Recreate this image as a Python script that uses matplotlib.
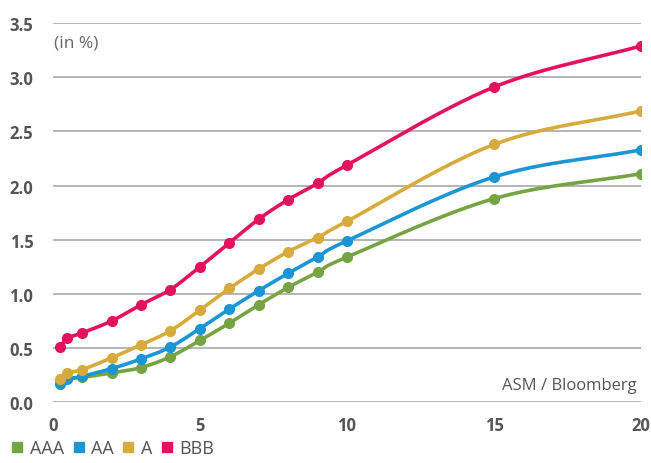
import numpy as np
import matplotlib
matplotlib.use("Agg")
from matplotlib import pyplot as plt
from matplotlib.lines import Line2D

plt.rcParams['font.family'] = ['Open Sans', 'DejaVu Sans']

maturities = [0.25, 0.5, 1, 2, 3, 4, 5, 6, 7, 8, 9, 10, 15, 20]
aaa = [0.20, 0.22, 0.23, 0.27, 0.32, 0.42, 0.57, 0.73, 0.90, 1.06, 1.20, 1.34, 1.88, 2.11]
aa = [0.17, 0.21, 0.24, 0.31, 0.40, 0.51, 0.68, 0.86, 1.03, 1.19, 1.34, 1.49, 2.08, 2.33]
a = [0.21, 0.27, 0.30, 0.41, 0.53, 0.66, 0.85, 1.05, 1.23, 1.39, 1.52, 1.67, 2.38, 2.69]
bbb = [0.51, 0.59, 0.64, 0.75, 0.90, 1.04, 1.25, 1.47, 1.69, 1.87, 2.02, 2.19, 2.91, 3.29]

names = ['AAA', 'AA', 'A', 'BBB']
colors = ['#77a443', '#1b95d3', '#d6aa3c', '#e2125f']


def smooth(x, y, n=30):
    # catmull-rom through the points, just for drawing
    x = np.asarray(x, float)
    y = np.asarray(y, float)
    px = np.concatenate([[2*x[0]-x[1]], x, [2*x[-1]-x[-2]]])
    py = np.concatenate([[2*y[0]-y[1]], y, [2*y[-1]-y[-2]]])
    xs, ys = [], []
    t = np.linspace(0, 1, n)
    for i in range(1, len(px)-2):
        for p, out in ((px, xs), (py, ys)):
            p0, p1, p2, p3 = p[i-1], p[i], p[i+1], p[i+2]
            out.extend(0.5*((2*p1) + (-p0+p2)*t + (2*p0-5*p1+4*p2-p3)*t**2
                            + (-p0+3*p1-3*p2+p3)*t**3))
    return xs, ys


fig = plt.figure(figsize=(6.51, 4.64), dpi=100)
ax = fig.add_axes([0.081, 0.131, 0.904, 0.817])

for vals, c in zip([aaa, aa, a, bbb], colors):
    sx, sy = smooth(maturities, vals)
    ax.plot(sx, sy, color=c, lw=2.6, solid_capstyle='round', zorder=3)
    ax.plot(maturities, vals, 'o', color=c, ms=7, zorder=4)

ax.set_xlim(0, 20)
ax.set_ylim(0, 3.5)
ax.set_xticks([0, 5, 10, 15, 20])
ax.set_yticks(np.arange(0, 3.51, 0.5))
ax.set_yticklabels(['%.1f' % v for v in np.arange(0, 3.51, 0.5)])
ax.grid(axis='y', color='#a0a0a0', lw=1.1)
ax.set_axisbelow(True)
for s in ax.spines.values():
    s.set_visible(False)
ax.tick_params(length=0, labelsize=12, labelcolor='#555555', pad=8)
for lbl in ax.get_xticklabels() + ax.get_yticklabels():
    lbl.set_fontweight('bold')
ax.tick_params(axis='x', pad=10)
ax.tick_params(axis='y', pad=14)

ax.text(0.05, 3.32, '(in %)', fontsize=12.5, color='#666666', va='center')
ax.text(19.85, 0.16, 'ASM / Bloomberg', fontsize=12, color='#555555', ha='right', va='center')

handles = [Line2D([], [], marker='s', ls='', color=c, ms=7.2) for c in colors]
fig.legend(handles, names, loc='lower left', bbox_to_anchor=(-0.008, -0.022), ncol=4,
           frameon=False, handlelength=0.7, handletextpad=0.35, columnspacing=0.45,
           fontsize=13, labelcolor='#555555')

fig.savefig('out.png', dpi=100)
